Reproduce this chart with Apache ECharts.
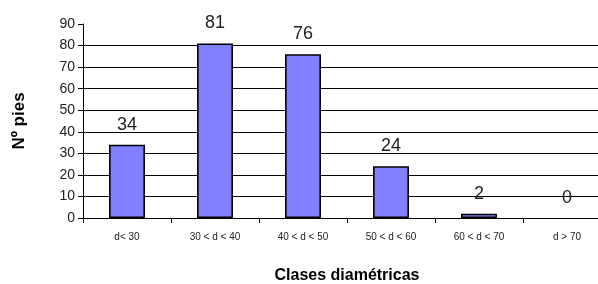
<!DOCTYPE html>
<html>
<head>
<meta charset="utf-8">
<script src="https://cdn.jsdelivr.net/npm/echarts@6/dist/echarts.min.js"></script>
<style>
  html, body { margin: 0; padding: 0; background: #fff; }
  #main { width: 598px; height: 284px; }
</style>
</head>
<body>
<div id="main"></div>
<script>
  // datos del grafico
  var clases = ['d< 30', '30 < d < 40', '40 < d < 50', '50 < d < 60', '60 < d < 70', 'd > 70'];
  var pies = [34, 81, 76, 24, 2, 0];

  var myChart = echarts.init(document.getElementById('main'));

  var fuente = '"Liberation Sans", Arial, sans-serif';

  // las barras con valor 0 no dibujan borde
  var datosBarras = pies.map(function (v) {
    return v === 0 ? { value: v, itemStyle: { borderWidth: 0 } } : v;
  });

  option = {
    animation: false,
    textStyle: { fontFamily: fuente },
    grid: {
      left: 83,
      top: 24,
      width: 528,
      height: 194,
      outerBoundsMode: 'none',
      containLabel: false
    },
    xAxis: {
      type: 'category',
      data: clases,
      name: 'Clases diamétricas',
      nameLocation: 'middle',
      nameGap: 50,
      nameTextStyle: { fontSize: 16, fontWeight: 'bold', color: '#000', fontFamily: fuente },
      axisLine: { lineStyle: { color: '#000', width: 1 } },
      axisTick: { show: true, length: 5, lineStyle: { color: '#000' } },
      axisLabel: { fontSize: 10, color: '#222', margin: 14, fontFamily: fuente }
    },
    yAxis: {
      type: 'value',
      min: 0,
      max: 90,
      interval: 10,
      name: 'Nº pies',
      nameLocation: 'middle',
      nameRotate: 90,
      nameGap: 55,
      nameTextStyle: { fontSize: 17, fontWeight: 'bold', color: '#000', fontFamily: fuente },
      axisLine: { show: true, lineStyle: { color: '#000', width: 1 } },
      axisTick: { show: true, length: 5, lineStyle: { color: '#000' } },
      axisLabel: { fontSize: 14, color: '#222', margin: 8, fontFamily: fuente },
      splitLine: { show: true, showMaxLine: false, lineStyle: { color: '#000', width: 1 } }
    },
    series: [
      {
        type: 'bar',
        data: datosBarras,
        barWidth: 36,
        itemStyle: { color: '#8080FF', borderColor: '#000', borderWidth: 1.6 },
        label: {
          show: true,
          position: 'top',
          distance: 11,
          fontSize: 18,
          color: '#222',
          fontFamily: fuente
        }
      }
    ]
  };

  myChart.setOption(option);
</script>
</body>
</html>
